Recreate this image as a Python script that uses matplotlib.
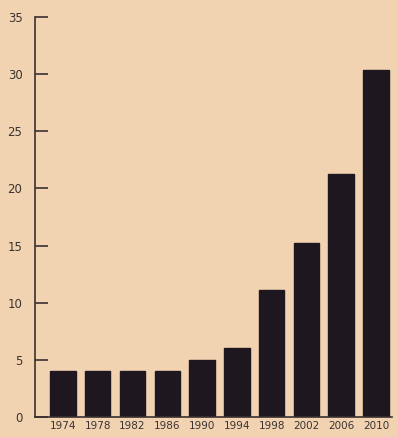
import matplotlib
matplotlib.use('Agg')
import matplotlib.pyplot as plt
import numpy as np

years = ['1974', '1978', '1982', '1986', '1990', '1994', '1998', '2002', '2006', '2010']
values = [4, 4, 4, 4, 5, 6, 11.1, 15.2, 21.3, 30.4]
yticks = [0, 5, 10, 15, 20, 25, 30, 35]

bg = '#f1d3b1'
bar_col = '#1f1720'
txt_col = '#3b3232'

fig = plt.figure(figsize=(3.98, 4.37), dpi=100, facecolor=bg)
ax = fig.add_axes([35 / 398, 20 / 437, 357 / 398, 400 / 437])
ax.set_facecolor(bg)

x = np.arange(len(years))
ax.bar(x, values, width=0.73, color=bar_col, edgecolor=bar_col)

ax.set_ylim(0, 35)
ax.set_xlim(-0.8, 9.46)
ax.set_yticks(yticks)
ax.set_yticklabels([str(t) for t in yticks], fontsize=8.5, color=txt_col)
ax.set_xticks(x)
ax.set_xticklabels(years, fontsize=7.5, color=txt_col)

ax.spines['top'].set_visible(False)
ax.spines['right'].set_visible(False)
for s in ['left', 'bottom']:
    ax.spines[s].set_color('#3a3030')
    ax.spines[s].set_linewidth(1.2)

ax.tick_params(axis='y', direction='in', length=9, width=1.2, color='#3a3030', pad=9)
ax.tick_params(axis='x', length=0, pad=3)

fig.savefig('out.png', dpi=100, facecolor=bg)
